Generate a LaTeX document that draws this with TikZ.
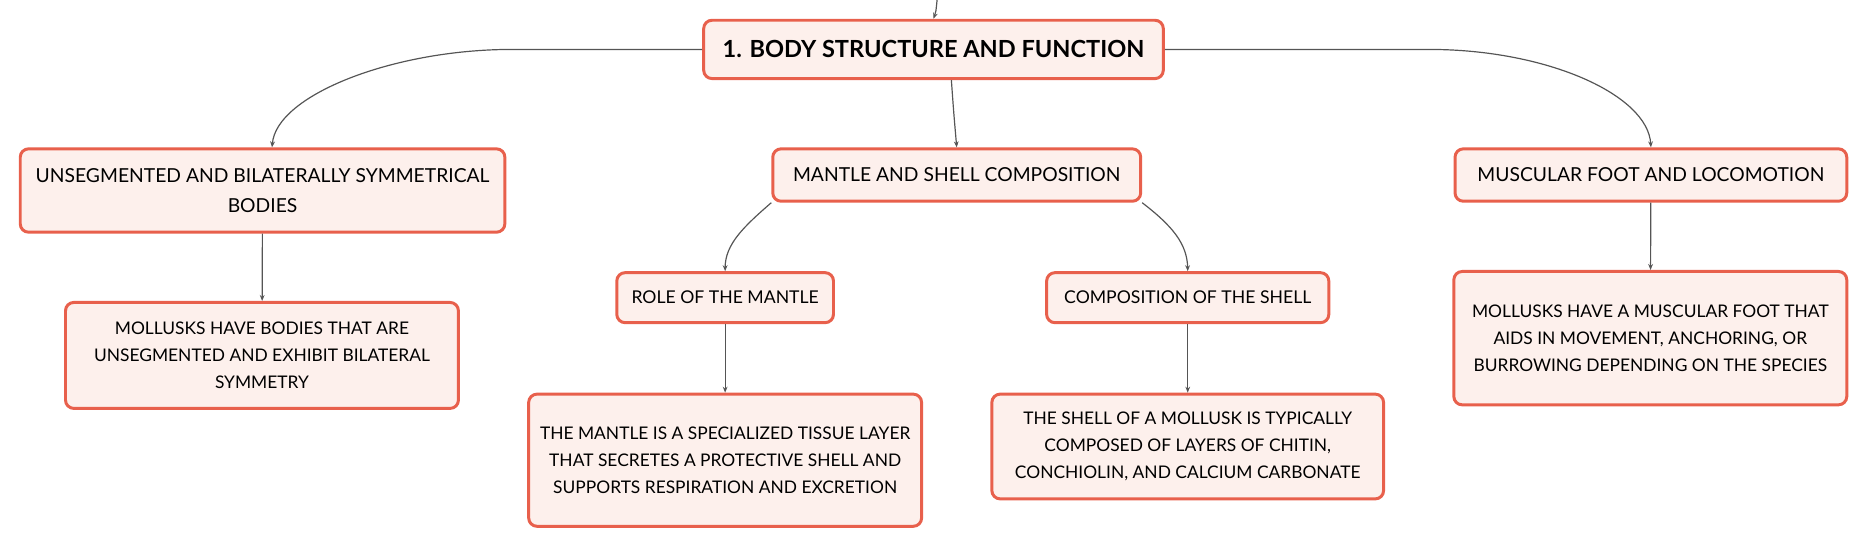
\documentclass[tikz,border=0pt]{standalone}
\usepackage{fontspec}
\setmainfont{Lato}
\usetikzlibrary{arrows.meta}
\definecolor{boxline}{HTML}{E8604C}
\definecolor{boxfill}{HTML}{FDF0EC}
\definecolor{edgegray}{HTML}{555555}

\begin{document}
\begin{tikzpicture}[x=0.5pt,y=-0.5pt]
   \tikzset{topic/.style={draw=boxline,fill=boxfill,line width=1.25pt,rounded corners=3.5pt,align=center,inner sep=0pt}}
   \tikzset{roottopic/.style={topic,font=\fontsize{9.9}{12}\selectfont\bfseries}}
   \tikzset{maintopic/.style={topic,font=\fontsize{8.1}{12.5}\selectfont}}
   \tikzset{subtopic/.style={topic,font=\fontsize{7.4}{11}\selectfont}}
   \tikzset{leaf/.style={topic,font=\fontsize{7.3}{11.2}\selectfont}}
   \tikzset{EdgeStyle/.style={draw=edgegray,line width=0.5pt,-{Stealth[length=2.5pt,width=2pt]}}}
   \useasboundingbox (0,0) rectangle (1568,461);
   \coordinate (up) at (787,0);
   \node[roottopic,minimum width=193pt,minimum height=24.5pt] (body) at (784,41.5) {1. BODY STRUCTURE AND FUNCTION};
   \node[maintopic,minimum width=203.5pt,minimum height=35pt] (unseg) at (220.5,160) {UNSEGMENTED AND BILATERALLY SYMMETRICAL\\BODIES};
   \node[leaf,minimum width=165pt,minimum height=44.5pt] (unsegleaf) at (220,298.5) {MOLLUSKS HAVE BODIES THAT ARE\\UNSEGMENTED AND EXHIBIT BILATERAL\\SYMMETRY};
   \node[maintopic,minimum width=154.5pt,minimum height=22pt] (mantle) at (803.5,147) {MANTLE AND SHELL COMPOSITION};
   \node[subtopic,minimum width=91pt,minimum height=21pt] (role) at (609,250) {ROLE OF THE MANTLE};
   \node[leaf,minimum width=165pt,minimum height=55.5pt] (roleleaf) at (609,386.5) {THE MANTLE IS A SPECIALIZED TISSUE LAYER\\THAT SECRETES A PROTECTIVE SHELL AND\\SUPPORTS RESPIRATION AND EXCRETION};
   \node[subtopic,minimum width=118.5pt,minimum height=21pt] (shell) at (997.5,250) {COMPOSITION OF THE SHELL};
   \node[leaf,minimum width=164.5pt,minimum height=44pt] (shellleaf) at (997.5,375) {THE SHELL OF A MOLLUSK IS TYPICALLY\\COMPOSED OF LAYERS OF CHITIN,\\CONCHIOLIN, AND CALCIUM CARBONATE};
   \node[maintopic,minimum width=164.5pt,minimum height=22pt] (foot) at (1386.5,147) {MUSCULAR FOOT AND LOCOMOTION};
   \node[leaf,minimum width=165pt,minimum height=56pt] (footleaf) at (1386,284) {MOLLUSKS HAVE A MUSCULAR FOOT THAT\\AIDS IN MOVEMENT, ANCHORING, OR\\BURROWING DEPENDING ON THE SPECIES};
   \draw[EdgeStyle] (up) .. controls (786,10) .. (body.north);
   \draw[EdgeStyle] (body.west) -- (430,41.5) .. controls (330,41.5) and (232,80) .. ([xshift=4pt]unseg.north);
   \draw[EdgeStyle] (body.east) -- (1200,41.5) .. controls (1300,41.5) and (1384,80) .. (foot.north);
   \draw[EdgeStyle] ([xshift=7.5pt]body.south) .. controls (801,95) .. (mantle.north);
   \draw[EdgeStyle] (mantle.south west) .. controls (625,190) and (609,205) .. (role.north);
   \draw[EdgeStyle] (mantle.south east) .. controls (985,190) and (997,205) .. (shell.north);
   \draw[EdgeStyle] (unseg) -- (unsegleaf);
   \draw[EdgeStyle] (role) -- (roleleaf);
   \draw[EdgeStyle] (shell) -- (shellleaf);
   \draw[EdgeStyle] (foot) -- (footleaf);
\end{tikzpicture}
\end{document}
